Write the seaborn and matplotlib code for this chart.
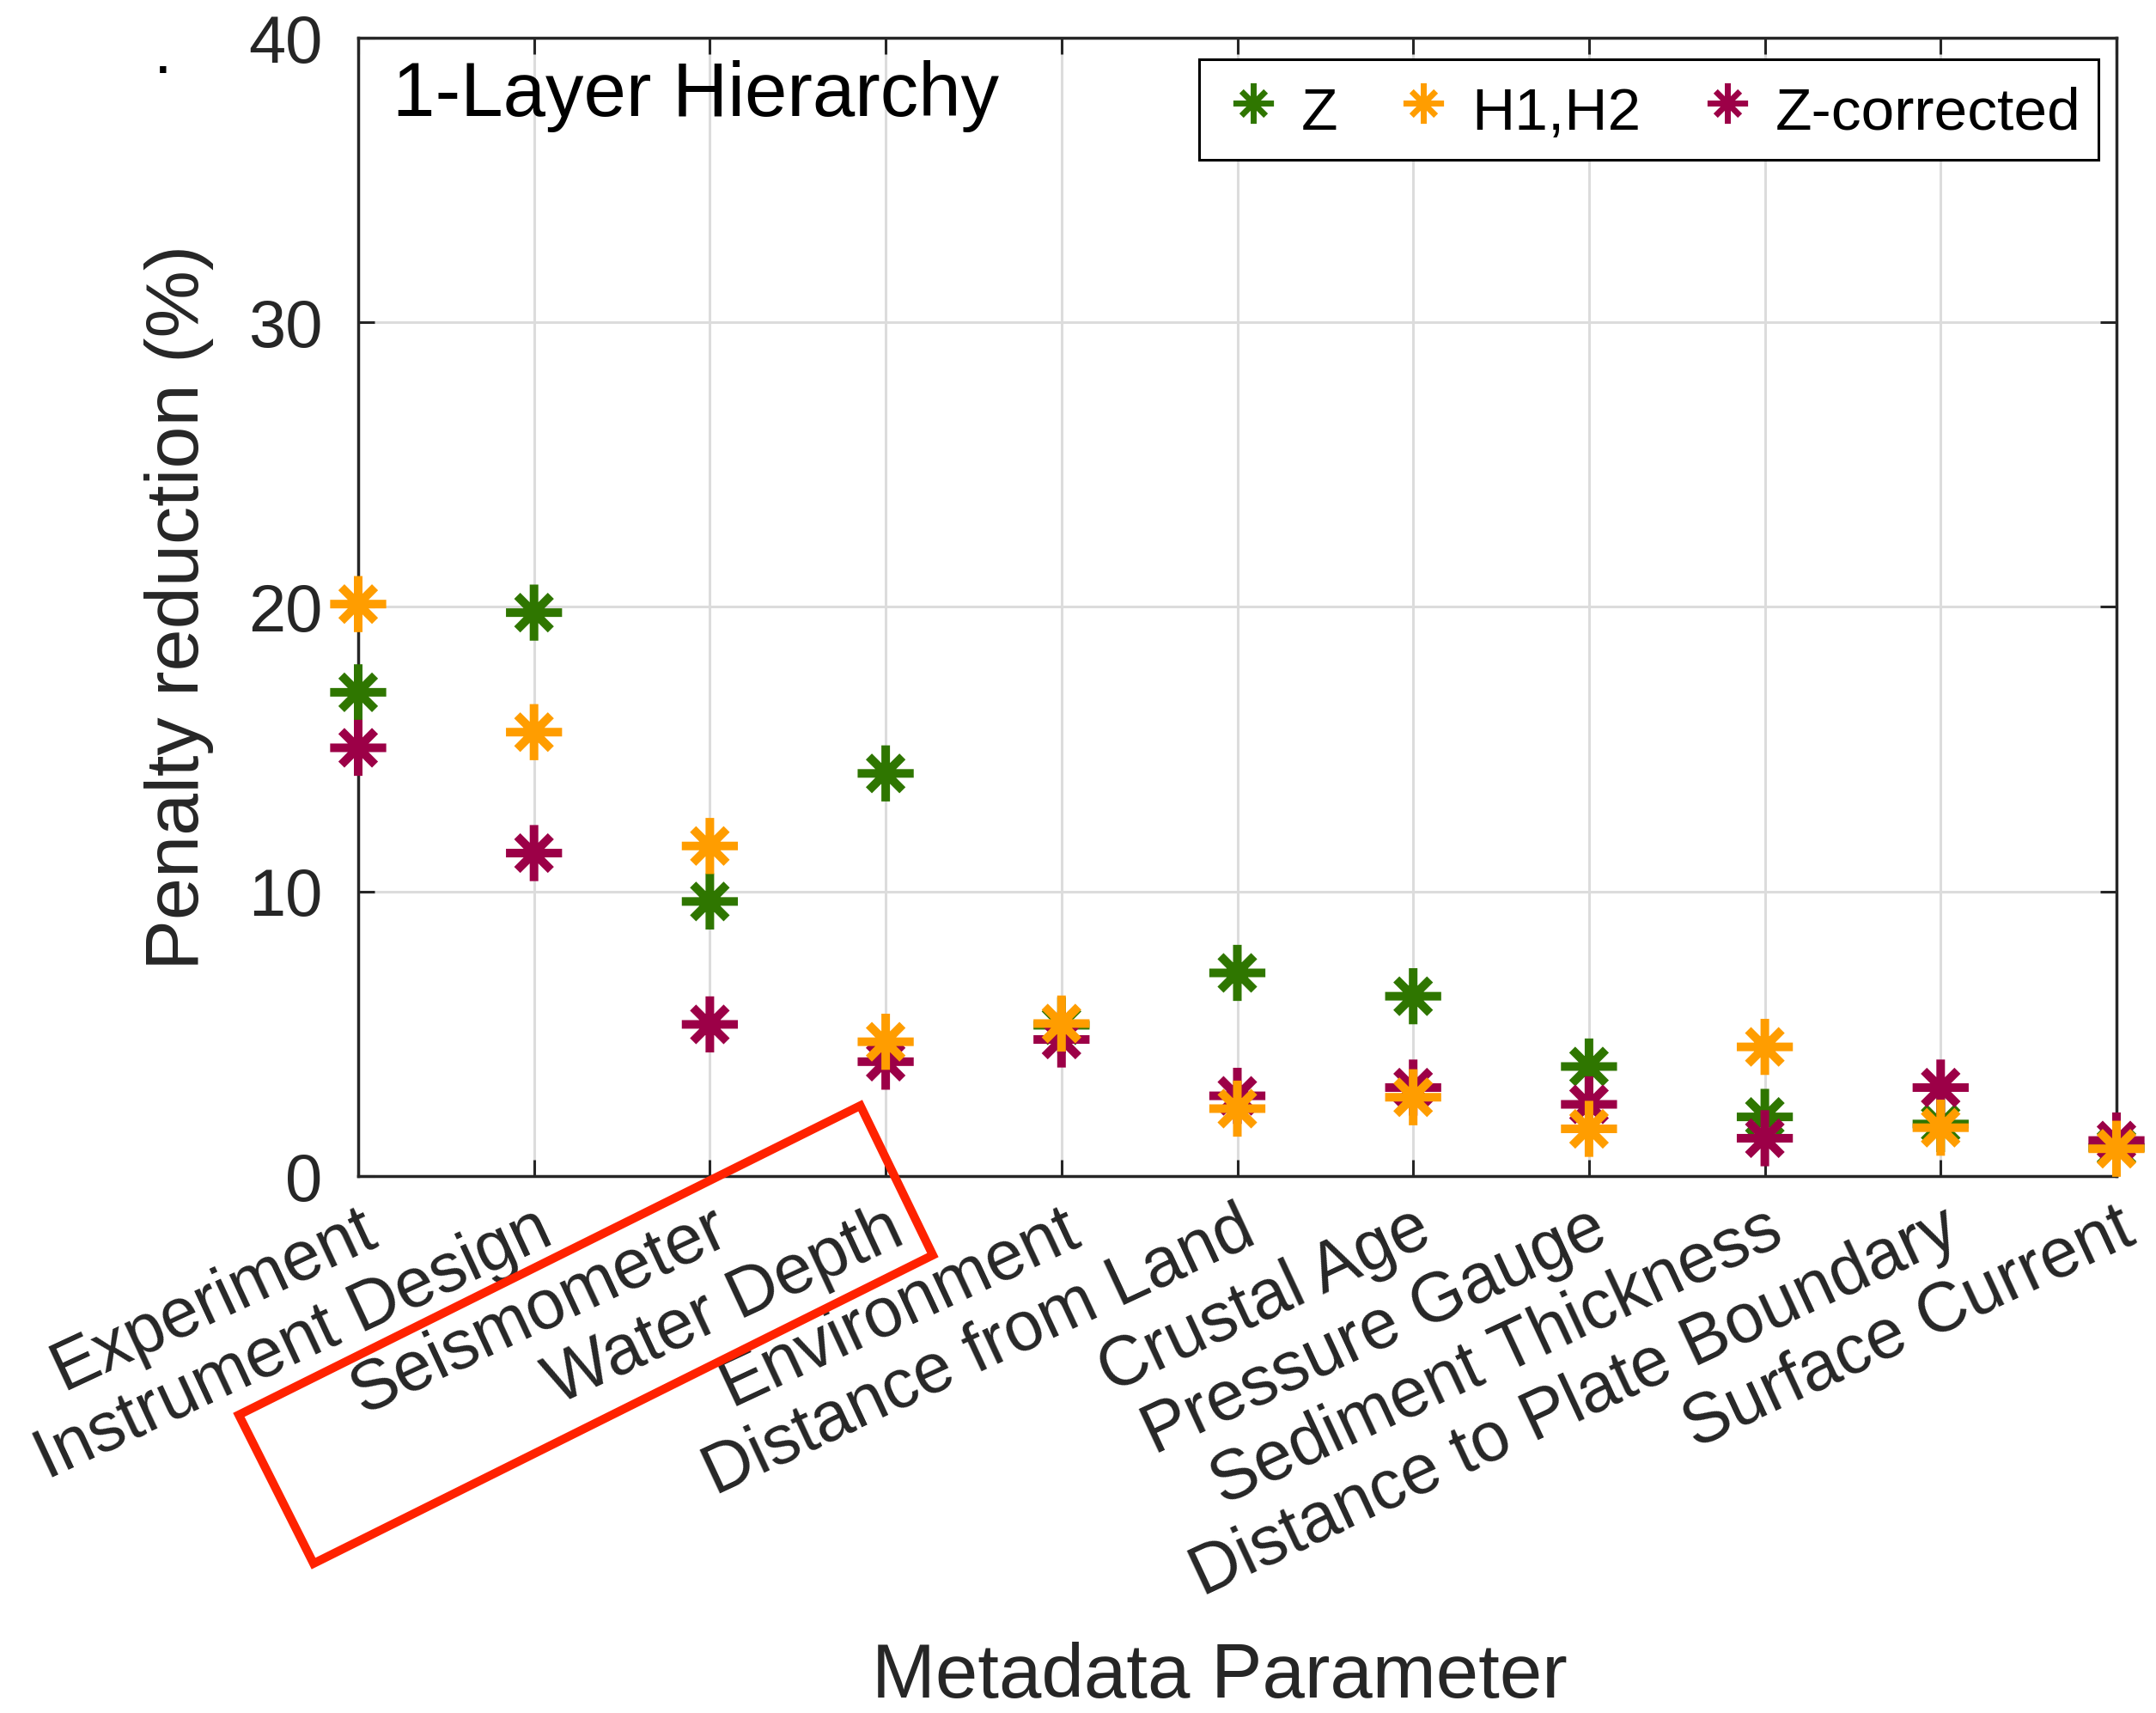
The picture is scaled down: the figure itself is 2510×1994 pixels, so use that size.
import numpy as np
import pandas as pd
import matplotlib
matplotlib.use("Agg")
import matplotlib.pyplot as plt
import seaborn as sns
from matplotlib.path import Path
from matplotlib.lines import Line2D
from matplotlib.patches import Polygon

# ---------------- data ----------------
categories = ["Experiment", "Instrument Design", "Seismometer", "Water Depth",
              "Environment", "Distance from Land", "Crustal Age", "Pressure Gauge",
              "Sediment Thickness", "Distance to Plate Boundary", "Surface Current"]
z_vals = [17.0, 19.8, 9.65, 14.15, 5.3, 7.14, 6.32, 3.85, 2.08, 1.83, 1.0]
h_vals = [20.1, 15.6, 11.6, 4.72, 5.36, 2.37, 2.77, 1.66, 4.54, 1.70, 0.96]
zc_vals = [15.05, 11.35, 5.33, 4.02, 4.80, 2.82, 3.11, 2.52, 1.33, 3.11, 1.25]
series_names = ["Z", "H1,H2", "Z-corrected"]
y_ticks = [0, 10, 20, 30, 40]

colors = {"Z": "#2f7600", "H1,H2": "#ff9d00", "Z-corrected": "#9c0047"}

# draw order: Z, Z-corrected, then H1,H2 on top
df = pd.concat([
    pd.DataFrame({"param": categories, "value": z_vals, "series": "Z"}),
    pd.DataFrame({"param": categories, "value": zc_vals, "series": "Z-corrected"}),
    pd.DataFrame({"param": categories, "value": h_vals, "series": "H1,H2"}),
], ignore_index=True)
df["pos"] = df["param"].map({c: i for i, c in enumerate(categories)})

sns.set_style("ticks")
plt.rcParams["font.family"] = ["Liberation Sans", "DejaVu Sans"]

# MATLAB-like asterisk marker
a = 0.6
ast = Path([(-1, 0), (1, 0), (0, -1), (0, 1), (-a, -a), (a, a), (-a, a), (a, -a)],
           [Path.MOVETO, Path.LINETO] * 4)

W, H = 2510, 1994
fig = plt.figure(figsize=(W / 100, H / 100), dpi=100)
L, R, T, B = 417, 2464, 44, 1369
ax = fig.add_axes([L / W, 1 - B / H, (R - L) / W, (B - T) / H])

sns.scatterplot(data=df, x="pos", y="value", hue="series", palette=colors,
                marker=ast, s=47 ** 2, linewidth=7.2, edgecolor="face",
                legend=False, ax=ax, zorder=3, clip_on=False)

ax.set_xlim(0, len(categories) - 1)
ax.set_ylim(0, 40)
ax.set_xticks(range(len(categories)))
ax.set_xticklabels(categories)
ax.set_yticks(y_ticks)
ax.set_yticklabels([str(t) for t in y_ticks])

tc = "#262626"
ax.grid(True, color="#dcdcdc", linewidth=2.2, zorder=0)
ax.set_axisbelow(True)
for sp in ax.spines.values():
    sp.set_visible(True)
    sp.set_color(tc)
    sp.set_linewidth(2.5)
ax.tick_params(axis="both", which="both", direction="in", length=14, width=2.2,
               color=tc, labelcolor=tc, labelsize=56, top=True, right=True)
ax.tick_params(axis="y", pad=30)
ax.tick_params(axis="x", pad=17, labelsize=58)
for lab in ax.get_xticklabels():
    lab.set_rotation(25)
    lab.set_ha("right")
    lab.set_va("top")
    lab.set_rotation_mode("anchor")

ax.set_xlabel("Metadata Parameter", fontsize=64, color=tc, va="baseline")
ax.xaxis.set_label_coords((1420 - L) / (R - L), (B - 1976) / (B - T))
ax.set_ylabel("Penalty reduction (%)", fontsize=63.5, color=tc, va="center")
ax.yaxis.set_label_coords((208 - L) / (R - L), 0.5)

ax.text((457 - L) / (R - L), (B - 135) / (B - T), "1-Layer Hierarchy",
        transform=ax.transAxes, fontsize=64, color="black", va="baseline", ha="left")

handles = [Line2D([], [], linestyle="none", marker=ast, markersize=34,
                  markeredgewidth=5, color=colors[n]) for n in series_names]
leg = ax.legend(handles, series_names, loc="upper right",
                bbox_to_anchor=((2443 - L) / (R - L), (B - 69) / (B - T)),
                borderaxespad=0, ncol=3, fontsize=50, frameon=True, fancybox=False,
                edgecolor="black", framealpha=1, borderpad=0.3, handlelength=1.2,
                handleheight=1.3, handletextpad=0.2, columnspacing=0.85,
                labelcolor="black")
leg.get_frame().set_linewidth(2.2)

fig.text(190 / W, 1 - 85 / H, ".", fontsize=56, ha="center", va="baseline", color="black")

rect_px = [(1001.6, 1287), (1086, 1461), (365, 1820), (278, 1647)]
poly = Polygon([(x / W, 1 - y / H) for x, y in rect_px], closed=True, fill=False,
               edgecolor="#ff2200", linewidth=7.2, joinstyle="miter",
               transform=fig.transFigure)
fig.add_artist(poly)

fig.savefig("out.png", dpi=100)
